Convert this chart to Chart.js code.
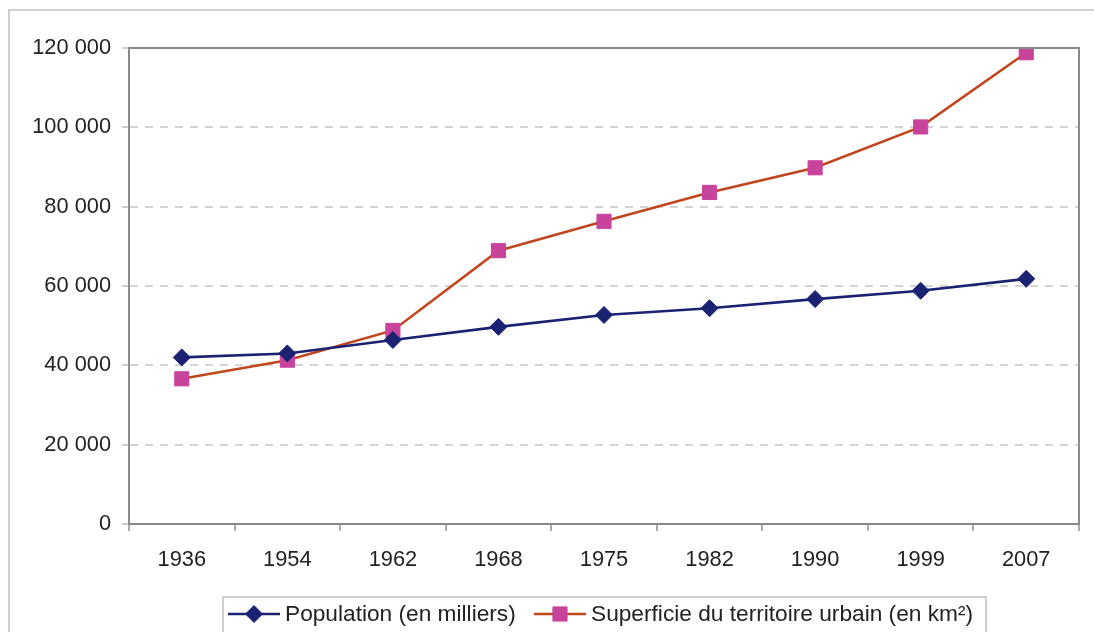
<!DOCTYPE html>
<html>
<head>
<meta charset="utf-8">
<script src="https://cdn.jsdelivr.net/npm/chart.js@4"></script>
<style>
  body { margin: 0; background: #fff; }
  #wrap { position: absolute; left: 0; top: 0; width: 1094px; height: 632px; }
</style>
</head>
<body>
<div id="wrap"><canvas id="myChart"></canvas></div>
<script>
// Data
const years = ['1936', '1954', '1962', '1968', '1975', '1982', '1990', '1999', '2007'];
const population = [42000, 43000, 46400, 49700, 52700, 54400, 56700, 58800, 61800];
const superficie = [36600, 41300, 48800, 68900, 76300, 83600, 89800, 100100, 118800];
const seriesNames = ['Population (en milliers)', 'Superficie du territoire urbain (en km²)'];
const yTicks = [0, 20000, 40000, 60000, 80000, 100000, 120000];

const navy = '#1b2272';
const brown = '#c0461e';
const pink = '#c8449c';
const font = '"Liberation Sans", Arial, sans-serif';

// frame around the plot + outer page border + legend box
const framePlugin = {
    id: 'frame',
    beforeDraw(chart) {
        const ctx = chart.ctx;
        ctx.save();
        ctx.strokeStyle = '#d0d0d0';
        ctx.lineWidth = 2;
        ctx.strokeRect(9, 10, 1200, 700);
        ctx.restore();
    },
    afterDatasetsDraw(chart) {
        const a = chart.chartArea;
        const ctx = chart.ctx;
        ctx.save();
        ctx.strokeStyle = '#8a8a8a';
        ctx.lineWidth = 2;
        ctx.strokeRect(a.left, a.top, a.right - a.left, a.bottom - a.top);
        ctx.restore();
    },
    afterDraw(chart) {
        const ctx = chart.ctx;
        ctx.save();
        // legend box
        ctx.strokeStyle = '#cfcfcf';
        ctx.lineWidth = 2;
        ctx.strokeRect(223, 597, 763, 60);
        const y = 614;
        const items = [
            { x: 228, line: navy, fill: navy, style: 'rectRot', r: 8.5 },
            { x: 534, line: brown, fill: pink, style: 'rect', r: 10 }
        ];
        ctx.font = '22.7px ' + font;
        ctx.textBaseline = 'middle';
        items.forEach((it, i) => {
            ctx.strokeStyle = it.line;
            ctx.lineWidth = 2.5;
            ctx.beginPath();
            ctx.moveTo(it.x, y);
            ctx.lineTo(it.x + 52, y);
            ctx.stroke();
            ctx.fillStyle = it.fill;
            ctx.strokeStyle = it.fill;
            ctx.lineWidth = 1;
            Chart.helpers.drawPoint(ctx, { pointStyle: it.style, radius: it.r, rotation: 0, borderWidth: 1 }, it.x + 26, y);
            ctx.fillStyle = '#222';
            ctx.fillText(seriesNames[i], it.x + 57, y + 1);
        });
        ctx.restore();
    }
};

const ctx = document.getElementById('myChart').getContext('2d');
const myChart = new Chart(ctx, {
    type: 'line',
    data: {
        labels: years,
        datasets: [{
            label: seriesNames[0],
            data: population,
            borderColor: navy,
            backgroundColor: navy,
            borderWidth: 2.6,
            pointStyle: 'rectRot',
            pointRadius: 8.5,
            pointBorderWidth: 1,
            tension: 0
        }, {
            label: seriesNames[1],
            data: superficie,
            borderColor: brown,
            backgroundColor: pink,
            pointBorderColor: pink,
            borderWidth: 2.6,
            pointStyle: 'rect',
            pointRadius: 10,
            pointBorderWidth: 1,
            tension: 0
        }]
    },
    options: {
        responsive: true,
        maintainAspectRatio: false,
        animation: false,
        layout: { padding: { left: 0, top: 48, right: 15, bottom: 0 } },
        plugins: {
            legend: { display: false },
            tooltip: { enabled: false }
        },
        scales: {
            x: {
                offset: true,
                grid: {
                    display: true,
                    offset: true,
                    drawOnChartArea: false,
                    tickLength: 7,
                    tickColor: '#aaaaaa',
                    lineWidth: 2
                },
                border: { display: true, color: '#8a8a8a', width: 2 },
                ticks: { color: '#222', font: { family: font, size: 21.8 }, padding: 16 },
                afterFit(scale) { scale.height = 108; }
            },
            y: {
                min: 0,
                max: 120000,
                afterBuildTicks(scale) { scale.ticks = yTicks.map(v => ({ value: v })); },
                grid: {
                    color: '#d4d4d4',
                    lineWidth: 2,
                    tickLength: 7,
                    tickColor: '#cfcfcf',
                    tickBorderDash: []
                },
                border: { display: true, color: '#8a8a8a', width: 2, dash: [8, 7] },
                ticks: {
                    color: '#222',
                    font: { family: font, size: 21.8 },
                    padding: 11,
                    callback: v => v === 0 ? '0' : String(v).replace(/\B(?=(\d{3})+(?!\d))/g, ' ')
                },
                afterFit(scale) { scale.width = 129; }
            }
        }
    },
    plugins: [framePlugin]
});
</script>
</body>
</html>
